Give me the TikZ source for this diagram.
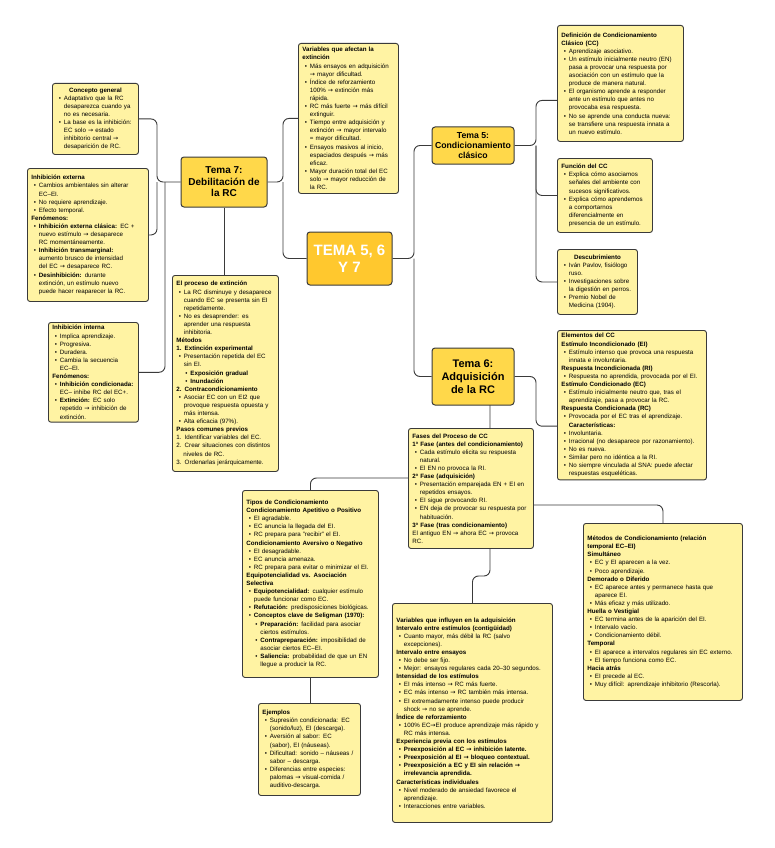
\documentclass[tikz,border=0pt]{standalone}
\usepackage{fontspec}
\setmainfont{Liberation Sans}
\newfontfamily\symf{DejaVu Sans}
\newcommand{\toar}{{\symf\char"2192}}
\newcommand{\mbu}{\hspace*{2.5pt}\makebox[5pt][l]{•}}
\newcommand{\mco}{\hspace*{7.5pt}}
\newcommand{\msbu}{\hspace*{9pt}\makebox[5pt][l]{•}}
\newcommand{\msco}{\hspace*{14pt}}
\newcommand{\leaffont}{\fontsize{6.2}{8.1}\selectfont}
\definecolor{leafc}{HTML}{FFF3A3}
\definecolor{topicc}{HTML}{FFD84A}
\definecolor{centc}{HTML}{FFC82E}
\definecolor{linec}{HTML}{3A3A3A}
\pgfdeclarelayer{bg}
\pgfsetlayers{bg,main}
\tikzset{
  leaf/.style={draw=linec, fill=leafc, rounded corners=2.5pt, line width=0.9pt,
    anchor=north west, inner xsep=4pt, inner ysep=3pt, align=left, font=\leaffont},
  topic/.style={draw=linec, fill=topicc, rounded corners=3pt, line width=1pt,
    align=center, inner sep=2pt},
  conn/.style={draw=linec, line width=0.9pt, rounded corners=6pt}
}
\begin{document}
\begin{tikzpicture}[x=1pt,y=-1pt]
\useasboundingbox (0,0) rectangle (774,848);

% ---------- central and topics ----------
\node[topic, fill=centc, draw=linec, minimum width=85pt, minimum height=53pt,
  text=white, font=\bfseries\fontsize{15}{17}\selectfont] (central) at (349.5,258.5) {TEMA 5, 6\\Y 7};
\node[topic, minimum width=86pt, minimum height=50pt,
  font=\bfseries\fontsize{10}{11.5}\selectfont] (tema7) at (224,182) {Tema 7:\\Debilitación de\\la RC};
\node[topic, minimum width=82pt, minimum height=37pt,
  font=\bfseries\fontsize{8.7}{10.2}\selectfont] (tema5) at (473,145.5) {Tema 5:\\Condicionamiento\\clásico};
\node[topic, minimum width=82pt, minimum height=57pt,
  font=\bfseries\fontsize{11}{13}\selectfont] (tema6) at (473,376.5) {Tema 6:\\Adquisición\\de la RC};

% ---------- Tema 7 leaves ----------
\node[leaf, minimum width=86pt, minimum height=71pt, text width=78pt] (concepto) at (52,83) {%
\centering\textbf{Concepto general}\\
\raggedright
\mbu Adaptativo que la RC\\
\mco desaparezca cuando ya\\
\mco no es necesaria.\\
\mbu La base es la inhibición:\\
\mco EC solo \toar{} estado\\
\mco inhibitorio central \toar\\
\mco desaparición de RC.};

\node[leaf, minimum width=121pt, minimum height=133pt, text width=113pt] (inhext) at (27,168) {%
\textbf{Inhibición externa}\\
\mbu Cambios ambientales sin alterar\\
\mco EC–EI.\\
\mbu No requiere aprendizaje.\\
\mbu Efecto temporal.\\
\textbf{Fenómenos:}\\
\mbu \textbf{Inhibición externa clásica:} EC +\\
\mco nuevo estímulo \toar{} desaparece\\
\mco RC momentáneamente.\\
\mbu \textbf{Inhibición transmarginal:}\\
\mco aumento brusco de intensidad\\
\mco del EC \toar{} desaparece RC.\\
\mbu \textbf{Desinhibición:} durante\\
\mco extinción, un estímulo nuevo\\
\mco puede hacer reaparecer la RC.};

\node[leaf, minimum width=90pt, minimum height=98pt, text width=82pt] (inhint) at (48,322) {%
\textbf{Inhibición interna}\\
\mbu Implica aprendizaje.\\
\mbu Progresiva.\\
\mbu Duradera.\\
\mbu Cambia la secuencia\\
\mco EC–EI.\\
\textbf{Fenómenos:}\\
\mbu \textbf{Inhibición condicionada:}\\
\mco EC– inhibe RC del EC+.\\
\mbu \textbf{Extinción:} EC solo\\
\mco repetido \toar{} inhibición de\\
\mco extinción.};

\node[leaf, minimum width=100pt, minimum height=150pt, text width=92pt] (varext) at (298,43) {%
\textbf{Variables que afectan la}\\
\textbf{extinción}\\
\mbu Más ensayos en adquisición\\
\mco \toar{} mayor dificultad.\\
\mbu Índice de reforzamiento\\
\mco 100\% \toar{} extinción más\\
\mco rápida.\\
\mbu RC más fuerte \toar{} más difícil\\
\mco extinguir.\\
\mbu Tiempo entre adquisición y\\
\mco extinción \toar{} mayor intervalo\\
\mco = mayor dificultad.\\
\mbu Ensayos masivos al inicio,\\
\mco espaciados después \toar{} más\\
\mco eficaz.\\
\mbu Mayor duración total del EC\\
\mco solo \toar{} mayor reducción de\\
\mco la RC.};

\node[leaf, minimum width=106pt, minimum height=196pt, text width=98pt] (proceso) at (172,275) {%
\textbf{El proceso de extinción}\\
\mbu La RC disminuye y desaparece\\
\mco cuando EC se presenta sin EI\\
\mco repetidamente.\\
\mbu No es desaprender: es\\
\mco aprender una respuesta\\
\mco inhibitoria.\\
\textbf{Métodos}\\
\textbf{1. Extinción experimental}\\
\mbu Presentación repetida del EC\\
\mco sin EI.\\
\msbu \textbf{Exposición gradual}\\
\msbu \textbf{Inundación}\\
\textbf{2. Contracondicionamiento}\\
\mbu Asociar EC con un EI2 que\\
\mco provoque respuesta opuesta y\\
\mco más intensa.\\
\mbu Alta eficacia (97\%).\\
\textbf{Pasos comunes previos}\\
1. Identificar variables del EC.\\
2. Crear situaciones con distintos\\
\hspace*{7pt}niveles de RC.\\
3. Ordenarlas jerárquicamente.};

% ---------- Tema 5 leaves ----------
\node[leaf, minimum width=126pt, minimum height=116pt, text width=118pt] (defcc) at (557,25) {%
\textbf{Definición de Condicionamiento}\\
\textbf{Clásico (CC)}\\
\mbu Aprendizaje asociativo.\\
\mbu Un estímulo inicialmente neutro (EN)\\
\mco pasa a provocar una respuesta por\\
\mco asociación con un estímulo que la\\
\mco produce de manera natural.\\
\mbu El organismo aprende a responder\\
\mco ante un estímulo que antes no\\
\mco provocaba esa respuesta.\\
\mbu No se aprende una conducta nueva:\\
\mco se transfiere una respuesta innata a\\
\mco un nuevo estímulo.};

\node[leaf, minimum width=95pt, minimum height=74pt, text width=87pt] (funcion) at (557,158) {%
\textbf{Función del CC}\\
\mbu Explica cómo asociamos\\
\mco señales del ambiente con\\
\mco sucesos significativos.\\
\mbu Explica cómo aprendemos\\
\mco a comportarnos\\
\mco diferencialmente en\\
\mco presencia de un estímulo.};

\node[leaf, minimum width=80pt, minimum height=65pt, text width=72pt] (descub) at (557,249) {%
\centering\textbf{Descubrimiento}\\
\raggedright
\mbu Iván Pavlov, fisiólogo\\
\mco ruso.\\
\mbu Investigaciones sobre\\
\mco la digestión en perros.\\
\mbu Premio Nobel de\\
\mco Medicina (1904).};

% ---------- Tema 6 leaves ----------
\node[leaf, minimum width=149pt, minimum height=148pt, text width=141pt] (elementos) at (557,330) {%
\textbf{Elementos del CC}\\
\textbf{Estímulo Incondicionado (EI)}\\
\mbu Estímulo intenso que provoca una respuesta\\
\mco innata e involuntaria.\\
\textbf{Respuesta Incondicionada (RI)}\\
\mbu Respuesta no aprendida, provocada por el EI.\\
\textbf{Estímulo Condicionado (EC)}\\
\mbu Estímulo inicialmente neutro que, tras el\\
\mco aprendizaje, pasa a provocar la RC.\\
\textbf{Respuesta Condicionada (RC)}\\
\mbu Provocada por el EC tras el aprendizaje.\\
\mco \textbf{Características:}\\
\mbu Involuntaria.\\
\mbu Irracional (no desaparece por razonamiento).\\
\mbu No es nueva.\\
\mbu Similar pero no idéntica a la RI.\\
\mbu No siempre vinculada al SNA: puede afectar\\
\mco respuestas esqueléticas.};

\node[leaf, minimum width=125pt, minimum height=120pt, text width=117pt] (fases) at (408,428) {%
\textbf{Fases del Proceso de CC}\\
\textbf{1ª Fase (antes del condicionamiento)}\\
\mbu Cada estímulo elicita su respuesta\\
\mco natural.\\
\mbu El EN no provoca la RI.\\
\textbf{2ª Fase (adquisición)}\\
\mbu Presentación emparejada EN + EI en\\
\mco repetidos ensayos.\\
\mbu EI sigue provocando RI.\\
\mbu EN deja de provocar su respuesta por\\
\mco habituación.\\
\textbf{3ª Fase (tras condicionamiento)}\\
El antiguo EN \toar{} ahora EC \toar{} provoca\\
RC.};

\node[leaf, minimum width=136pt, minimum height=187pt, text width=128pt] (tipos) at (242,490) {%
\textbf{Tipos de Condicionamiento}\\
\textbf{Condicionamiento Apetitivo o Positivo}\\
\mbu EI agradable.\\
\mbu EC anuncia la llegada del EI.\\
\mbu RC prepara para "recibir" el EI.\\
\textbf{Condicionamiento Aversivo o Negativo}\\
\mbu EI desagradable.\\
\mbu EC anuncia amenaza.\\
\mbu RC prepara para evitar o minimizar el EI.\\
\textbf{Equipotencialidad vs. Asociación}\\
\textbf{Selectiva}\\
\mbu \textbf{Equipotencialidad:} cualquier estímulo\\
\mco puede funcionar como EC.\\
\mbu \textbf{Refutación:} predisposiciones biológicas.\\
\mbu \textbf{Conceptos clave de Seligman (1970):}\\
\msbu \textbf{Preparación:} facilidad para asociar\\
\msco ciertos estímulos.\\
\msbu \textbf{Contrapreparación:} imposibilidad de\\
\msco asociar ciertos EC–EI.\\
\msbu \textbf{Saliencia:} probabilidad de que un EN\\
\msco llegue a producir la RC.};

\node[leaf, minimum width=102pt, minimum height=92pt, text width=94pt] (ejemplos) at (258,703) {%
\textbf{Ejemplos}\\
\mbu Supresión condicionada: EC\\
\mco (sonido/luz), EI (descarga).\\
\mbu Aversión al sabor: EC\\
\mco (sabor), EI (náuseas).\\
\mbu Dificultad: sonido – náuseas /\\
\mco sabor – descarga.\\
\mbu Diferencias entre especies:\\
\mco palomas \toar{} visual-comida /\\
\mco auditivo-descarga.};

\node[leaf, minimum width=160pt, minimum height=219pt, text width=152pt] (varadq) at (392,603) {%
\textbf{Variables que influyen en la adquisición}\\
\textbf{Intervalo entre estímulos (contigüidad)}\\
\mbu Cuanto mayor, más débil la RC (salvo\\
\mco excepciones).\\
\textbf{Intervalo entre ensayos}\\
\mbu No debe ser fijo.\\
\mbu Mejor: ensayos regulares cada 20–30 segundos.\\
\textbf{Intensidad de los estímulos}\\
\mbu EI más intenso \toar{} RC más fuerte.\\
\mbu EC más intenso \toar{} RC también más intensa.\\
\mbu EI extremadamente intenso puede producir\\
\mco shock \toar{} no se aprende.\\
\textbf{Índice de reforzamiento}\\
\mbu 100\% EC\toar EI produce aprendizaje más rápido y\\
\mco RC más intensa.\\
\textbf{Experiencia previa con los estímulos}\\
\mbu \textbf{Preexposición al EC \toar{} inhibición latente.}\\
\mbu \textbf{Preexposición al EI \toar{} bloqueo contextual.}\\
\mbu \textbf{Preexposición a EC y EI sin relación \toar}\\
\mco \textbf{irrelevancia aprendida.}\\
\textbf{Características individuales}\\
\mbu Nivel moderado de ansiedad favorece el\\
\mco aprendizaje.\\
\mbu Interacciones entre variables.};

\node[leaf, minimum width=159pt, minimum height=177pt, text width=151pt] (metodos) at (583,523) {%
\textbf{Métodos de Condicionamiento (relación}\\
\textbf{temporal EC–EI)}\\
\textbf{Simultáneo}\\
\mbu EC y EI aparecen a la vez.\\
\mbu Poco aprendizaje.\\
\textbf{Demorado o Diferido}\\
\mbu EC aparece antes y permanece hasta que\\
\mco aparece EI.\\
\mbu Más eficaz y más utilizado.\\
\textbf{Huella o Vestigial}\\
\mbu EC termina antes de la aparición del EI.\\
\mbu Intervalo vacío.\\
\mbu Condicionamiento débil.\\
\textbf{Temporal}\\
\mbu EI aparece a intervalos regulares sin EC externo.\\
\mbu El tiempo funciona como EC.\\
\textbf{Hacia atrás}\\
\mbu EI precede al EC.\\
\mbu Muy difícil: aprendizaje inhibitorio (Rescorla).};

% ---------- connectors (behind the boxes) ----------
\coordinate (j7l) at (157,182);
\coordinate (j7i) at (165,182);
\coordinate (j7r) at (283,182);
\coordinate (jc) at (414,258.5);
\coordinate (j5) at (536,145.5);
\coordinate (j6) at (536,376.5);
\coordinate (t6top) at (490,405);
\coordinate (t6a) at (490,478);
\coordinate (t6b) at (490,505);
\coordinate (t6c) at (490,576);

\begin{pgfonlayer}{bg}
\fill[white] (0,0) rectangle (774,848);
\draw[conn] (tema7.west) -- (j7l) |- (concepto.east);
\draw[conn] (j7l) |- (inhext.east);
\draw[conn] (j7i) |- (inhint.east);
\draw[conn] (tema7.east) -- (j7r) |- (varext.west);
\draw[conn] (j7r) |- (central.west);
\draw[conn] (tema7.south) -- (tema7.south |- proceso.north);

\draw[conn] (central.east) -- (jc) |- (tema5.west);
\draw[conn] (jc) |- (tema6.west);

\draw[conn] (tema5.east) -- (j5) |- ([yshift=-17pt]defcc.west);
\draw[conn] (j5) |- (funcion.west);
\draw[conn] (j5) |- (descub.west);

\draw[conn] (tema6.east) -- (j6) |- ([yshift=-21pt]elementos.west);
\draw[conn] (t6top) -- (t6c) -| (varadq.north);
\draw[conn] (t6a) -| (tipos.north);
\draw[conn] (t6b) -| (metodos.north);
\draw[conn] (tipos.south) -- (tipos.south |- ejemplos.north);
\end{pgfonlayer}
\end{tikzpicture}
\end{document}
